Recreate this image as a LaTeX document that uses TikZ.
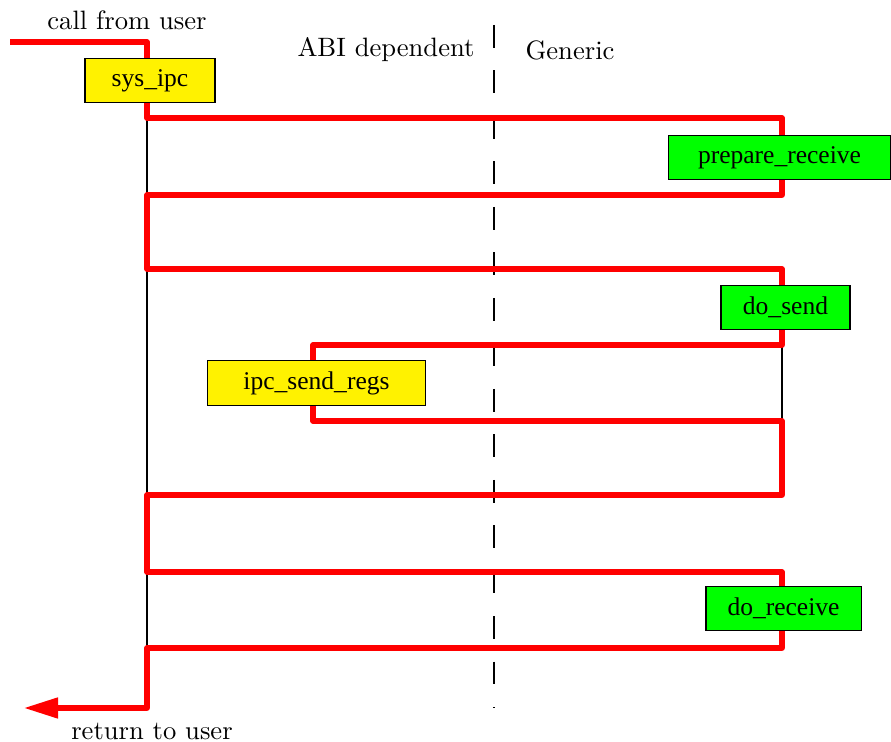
\documentclass[tikz,border=0pt]{standalone}
\usepackage{fontspec}
\newfontfamily\boxfont{Liberation Serif}
\usepackage{tikz}
\usetikzlibrary{arrows.meta}

\tikzset{
  callpath/.style={draw=red, line width=1.9pt, line join=round},
  func/.style={draw=black, font=\boxfont\fontsize{9.6}{11}\selectfont, inner sep=0pt, minimum height=16.6pt},
  abi/.style={func, fill=yellow},
  gen/.style={func, fill=green},
}

\begin{document}
\begin{tikzpicture}[x=0.376pt, y=-0.376pt]
        \useasboundingbox (0,0) rectangle (891,742);

        \node (call) at (127,20) {call from user};
        \node (abidep) at (386,50) {ABI dependent};
        \node (generic) at (570,50) {Generic};
        \node (ret) at (152,731) {return to user};

        \draw[dash pattern=on 8.55pt off 8.55pt] (494,25) -- (494,708);

        \coordinate (in) at (10,42);
        \coordinate (out) at (24,708);
        \draw (147,103) -- (147,648);
        \draw (782,330) -- (782,421);

        \draw[callpath, -{Triangle[length=12.8pt, width=7.5pt]}]
            (in) -- (147,42) -- (147,118) -- (782,118) -- (782,195)
            -- (147,195) -- (147,269) -- (782,269) -- (782,345)
            -- (313,345) -- (313,421) -- (782,421) -- (782,495)
            -- (147,495) -- (147,572) -- (782,572) -- (782,648)
            -- (147,648) -- (147,708) -- (out);

        \node[abi, minimum width=48.9pt] (sysipc) at (150,80.5) {sys\_ipc};
        \node[gen, minimum width=83.8pt] (prepare) at (779.5,157.5) {prepare\_receive};
        \node[gen, minimum width=48.5pt] (dosend) at (785.5,307.5) {do\_send};
        \node[abi, minimum width=82.3pt] (sendregs) at (316.5,383) {ipc\_send\_regs};
        \node[gen, minimum width=58.3pt] (doreceive) at (783.5,608.5) {do\_receive};
\end{tikzpicture}
\end{document}
